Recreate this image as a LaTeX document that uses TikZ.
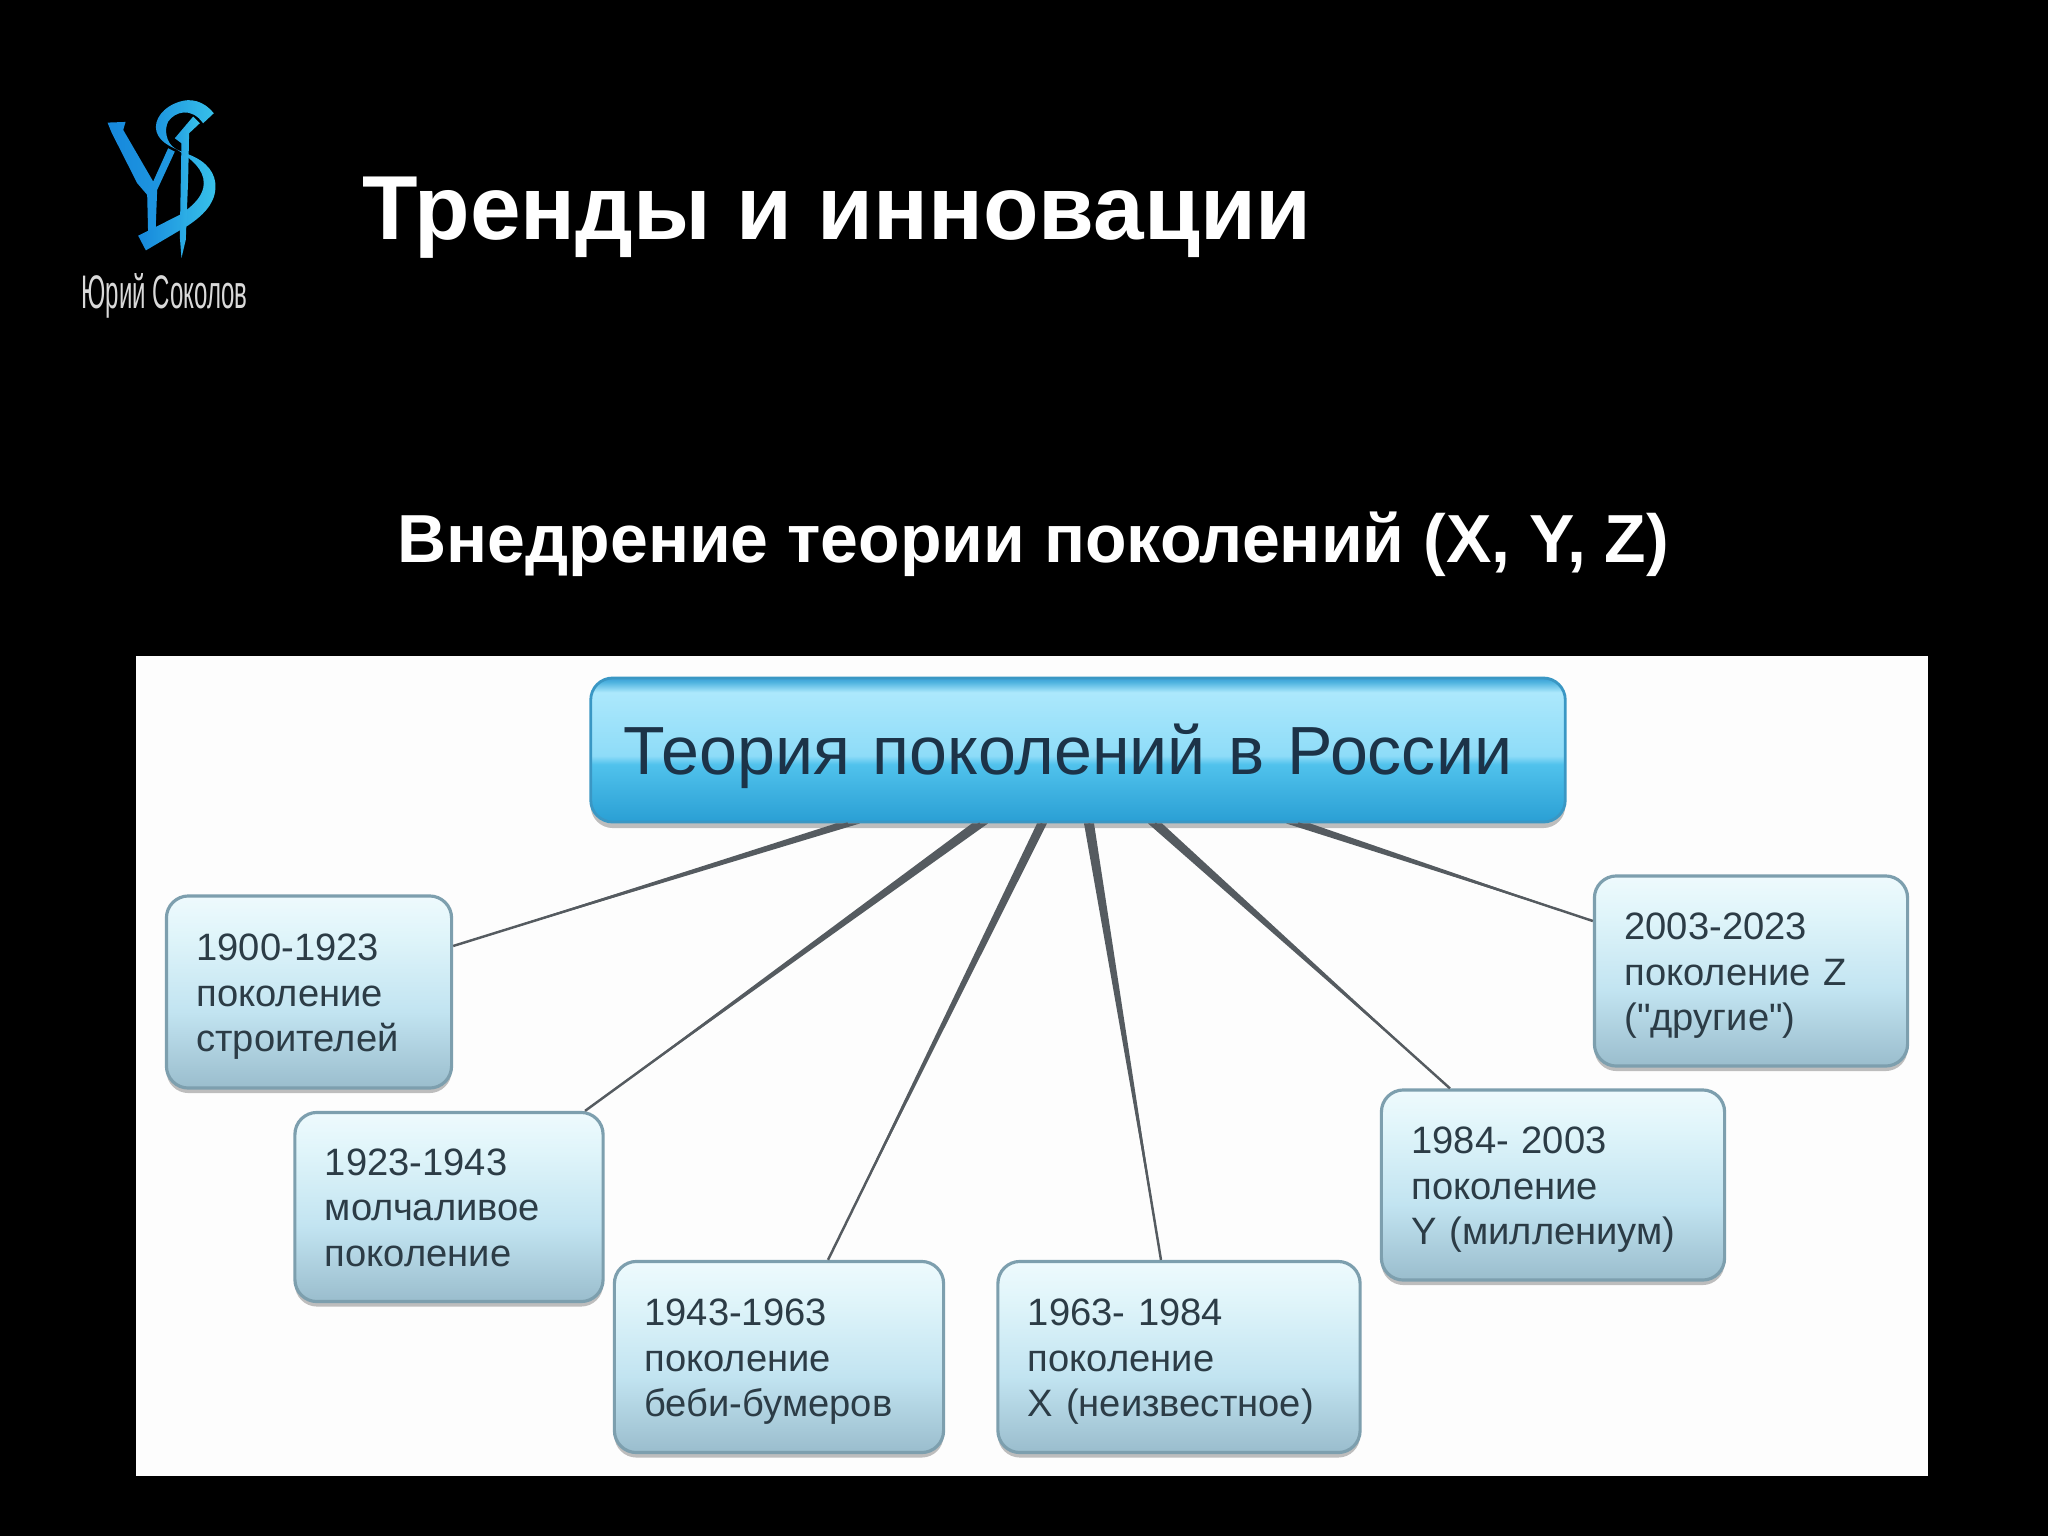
\documentclass[tikz,border=0pt]{standalone}
\usepackage{fontspec}
\setmainfont{Liberation Sans}[Ligatures=TeXOff]
\usetikzlibrary{shadows}
\definecolor{boxtext}{HTML}{2C3C46}
\definecolor{roottext}{HTML}{1C3348}
\definecolor{rootline}{HTML}{3A97C4}
\definecolor{boxline}{HTML}{7D9FAE}
\definecolor{connline}{HTML}{555B60}
\definecolor{logoA}{HTML}{1688DC}
\definecolor{logoB}{HTML}{38C2EA}
\definecolor{panel}{HTML}{FDFDFD}
\definecolor{ra}{HTML}{2A9FD4}
\definecolor{rb}{HTML}{50C2EC}
\definecolor{rc}{HTML}{8EDCF8}
\definecolor{rd}{HTML}{ACE8FC}
\definecolor{re}{HTML}{50B4E0}
\definecolor{rf}{HTML}{3CA0D6}
\definecolor{ba}{HTML}{9ABDCD}
\definecolor{bb}{HTML}{C2E4F1}
\definecolor{bc}{HTML}{E0F5FA}
\definecolor{bd}{HTML}{EEFAFD}
\pgfdeclareverticalshading{rootgloss}{100bp}{
  color(0bp)=(ra);
  color(25bp)=(ra);
  color(45bp)=(rb);
  color(48bp)=(rc);
  color(70bp)=(rd);
  color(73.5bp)=(re);
  color(75bp)=(rf);
  color(100bp)=(rf)}
\pgfdeclareverticalshading{boxgloss}{100bp}{
  color(0bp)=(ba);
  color(25bp)=(ba);
  color(45bp)=(bb);
  color(65bp)=(bc);
  color(75bp)=(bd);
  color(100bp)=(bd)}
\tikzset{
  titletext/.style={anchor=base west,text=white,inner sep=0pt,font=\fontsize{25.85pt}{30pt}\selectfont\bfseries},
  subtext/.style={anchor=base west,text=white,inner sep=0pt,font=\fontsize{19.33pt}{23pt}\selectfont\bfseries},
  logotext/.style={anchor=base west,text=black!15!white,inner sep=0pt,font=\fontsize{13.4pt}{15pt}\selectfont},
  rootbox/.style={draw=rootline,line width=0.8pt,rounded corners=0.22cm,shading=rootgloss,
    text=roottext,font=\fontsize{19.37pt}{22pt}\selectfont,align=left,inner ysep=0pt,
    drop shadow={shadow xshift=0pt,shadow yshift=-0.06cm,opacity=.25,fill=black}},
  genbox/.style={draw=boxline,line width=0.9pt,rounded corners=0.22cm,shading=boxgloss,
    text=boxtext,font=\fontsize{10.85pt}{13pt}\selectfont,align=left,inner xsep=0.30cm,inner ysep=0pt,
    drop shadow={shadow xshift=0pt,shadow yshift=-0.05cm,opacity=.25,fill=black}},
  conn/.style={draw=connline,line width=0.7pt},
  conntaper/.style={fill=connline},
}
% #1 shift on root.south, #2 shift and #3 anchor on the child, #4 half width at the root
\newcommand{\taperline}[4]{%
  \draw[conn] ([xshift=#1]root.south) -- ([#2]#3);
  \fill[conntaper] ([xshift=#1,xshift=-#4]root.south) -- ([xshift=#1,xshift=#4]root.south) -- ([#2]#3) -- cycle;
}
\newcommand{\boxstrut}{\rule{0pt}{0.36cm}}
\newcommand{\rootstrut}{\rule{0pt}{0.64cm}}
\begin{document}
\begin{tikzpicture}[x=0.01cm,y=-0.01cm]
\useasboundingbox[fill=black] (0,0) rectangle (2048,1536);
% logo
\begin{scope}[shift={(60,80)},x=0.003333cm,y=-0.003333cm]
  \shade[left color=logoA,right color=logoA!70!logoB]
    (143,128) -- (197,126) -- (190,150) -- (280,305) -- (325,205) -- (345,215) -- (292,330)
    -- (287,460) -- (265,470) -- (262,345) -- (232,310) -- (155,158) -- cycle;
  \shade[left color=logoA,right color=logoB]
    (462,100) .. controls (430,60) and (390,55) .. (360,65)
    .. controls (310,80) and (280,120) .. (290,155)
    .. controls (300,190) and (340,205) .. (390,225)
    .. controls (440,245) and (470,280) .. (467,325)
    .. controls (465,375) and (425,410) .. (385,437)
    -- (258,512) -- (235,468) -- (360,405)
    .. controls (405,375) and (432,345) .. (432,310)
    .. controls (432,270) and (400,240) .. (345,205)
    .. controls (320,190) and (312,150) .. (325,125)
    .. controls (345,95) and (395,80) .. (430,130) -- cycle;
  \shade[left color=logoA!60!logoB,right color=logoB]
    (345,175) -- (400,110) -- (420,130) -- (388,160) -- (385,300) -- (378,480) -- (365,535)
    -- (360,470) -- (365,190) -- cycle;
\end{scope}
\node[logotext] (logoname) at (81,308) {\scalebox{0.51}[1]{Юрий Соколов}};
% titles
\node[titletext] (title) at (362,239) {Тренды и инновации};
\node[subtext] (subtitle) at (397,562) {Внедрение теории поколений (X, Y, Z)};
% panel
\fill[panel] (136,656) rectangle (1928,1476);
% boxes
\node[rootbox,minimum height=1.44cm,text width=9.08cm,inner xsep=0.33cm] (root) at (1078,750) {\rootstrut Теория поколений в России};
\node[genbox,minimum height=1.92cm,text width=2.25cm] (n1) at (309,992) {\boxstrut 1900-1923\\поколение\\строителей};
\node[genbox,minimum height=1.89cm,text width=2.48cm] (n2) at (449,1207) {\rule{0pt}{0.28cm}1923-1943\\молчаливое\\поколение};
\node[genbox,minimum height=1.91cm,text width=2.69cm] (n3) at (779,1357) {\boxstrut 1943-1963\\поколение\\беби-бумеров};
\node[genbox,minimum height=1.91cm,text width=3.02cm] (n4) at (1179,1357) {\boxstrut 1963- 1984\\поколение\\X (неизвестное)};
\node[genbox,minimum height=1.90cm,text width=2.83cm] (n5) at (1553,1185) {\boxstrut 1984- 2003\\поколение\\Y (миллениум)};
\node[genbox,minimum height=1.90cm,text width=2.53cm] (n6) at (1751,971) {\boxstrut 2003-2023\\поколение Z\\("другие")};
% connectors
\taperline{-2.30cm}{yshift=0.46cm}{n1.east}{0.12cm}
\taperline{-0.98cm}{xshift=1.36cm}{n2.north}{0.08cm}
\taperline{-0.36cm}{xshift=0.49cm}{n3.north}{0.05cm}
\taperline{0.11cm}{xshift=-0.18cm}{n4.north}{0.05cm}
\taperline{0.77cm}{xshift=-1.03cm}{n5.north}{0.07cm}
\taperline{2.20cm}{yshift=0.50cm}{n6.west}{0.12cm}
\end{tikzpicture}
\end{document}
